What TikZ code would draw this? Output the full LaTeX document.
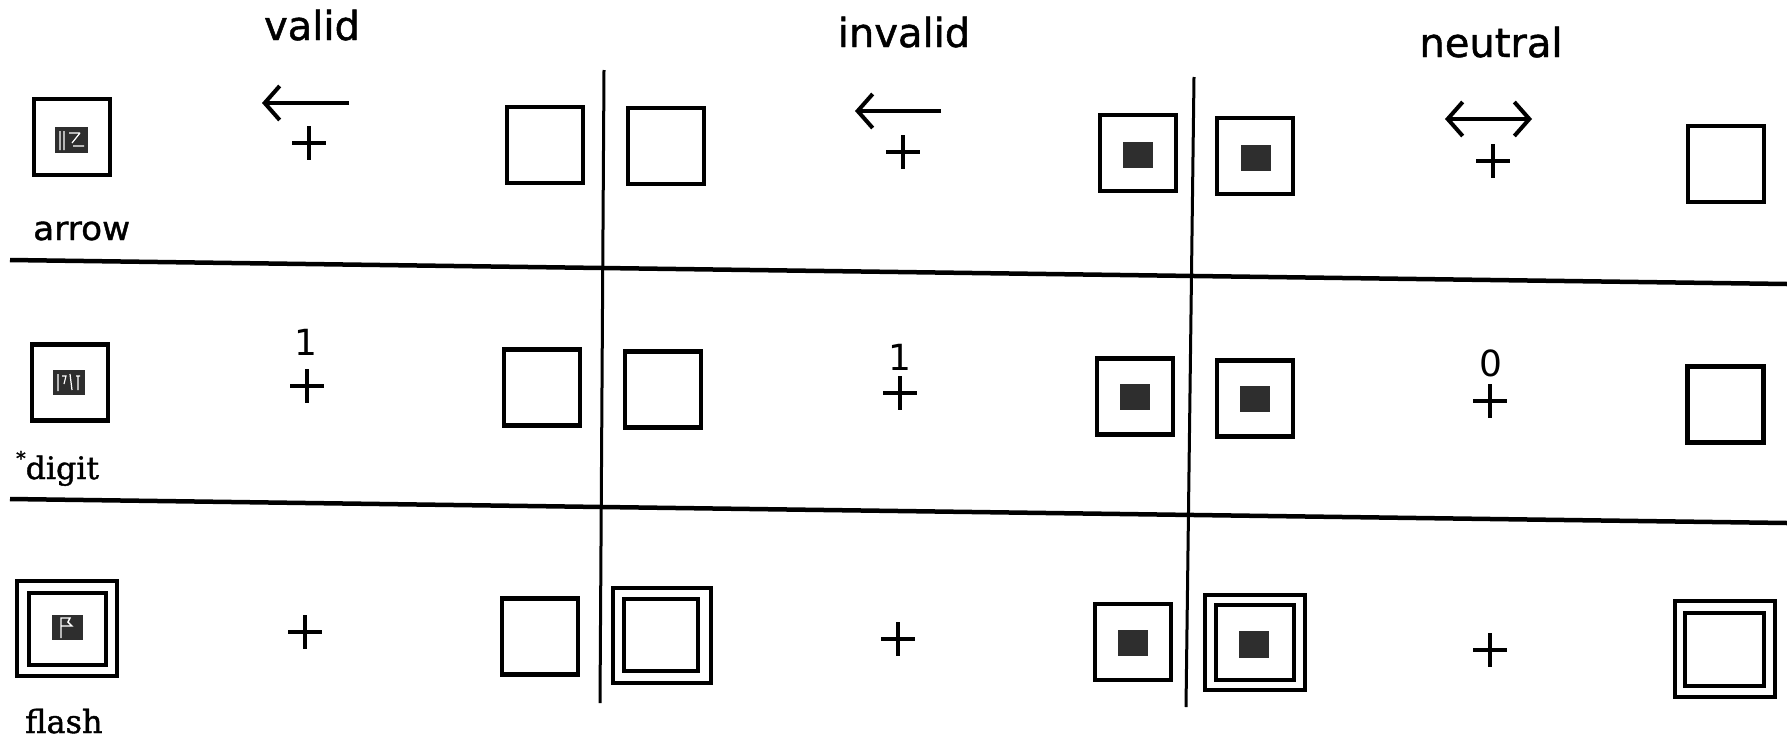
\documentclass[tikz,border=0pt]{standalone}
\usepackage{fontspec}
\setmainfont{DejaVu Sans}
\newfontfamily\headfont{DejaVu Sans}[FakeBold=1.2]
\newfontfamily\labelserif{DejaVu Serif}[FakeBold=1.2]
\usetikzlibrary{arrows.meta}

\tikzset{
  % plain square frame
  sbox/.style={draw=black, line width=4.5pt, fill=white, minimum width=76pt, minimum height=76pt, inner sep=0pt},
  % outer frame of a doubled square
  obox/.style={draw=black, line width=4.5pt, fill=white, minimum width=98pt, minimum height=95pt, inner sep=0pt},
  % filled core inside a frame
  core/.style={fill=black!82, minimum width=30pt, minimum height=26pt, inner sep=0pt},
  head/.style={font=\headfont\fontsize{40}{40}\selectfont, anchor=base, inner sep=0pt},
  digitlbl/.style={font=\fontsize{36}{36}\selectfont, anchor=base, inner sep=0pt},
  rowlbl/.style={anchor=base west, inner sep=0pt},
  rule/.style={line width=4.5pt},
  colrule/.style={line width=3pt},
  pointer/.style={line width=4pt},
  barb/.tip={Straight Barb[length=15pt, width=34pt, line width=4pt]},
  crossmark/.pic={\draw[line width=4pt] (-17,0) -- (17,0) (0,-17) -- (0,17);}
}

\begin{document}
\begin{tikzpicture}[x=1pt, y=-1pt]
\useasboundingbox (0,0) rectangle (1787,742);

% column headings
\node[head] (hvalid)   at (312,40) {valid};
\node[head] (hinvalid) at (904,47) {invalid};
\node[head] (hneutral) at (1491,57) {neutral};

% grid rules
\coordinate (h1a) at (10,260);  \coordinate (h1b) at (1787,284);
\coordinate (h2a) at (10,499);  \coordinate (h2b) at (1787,523);
\coordinate (v1a) at (604,70);  \coordinate (v1b) at (600,703);
\coordinate (v2a) at (1194,77); \coordinate (v2b) at (1186,707);
\draw[rule] (h1a) -- (h1b);
\draw[rule] (h2a) -- (h2b);
\draw[colrule] (v1a) -- (v1b);
\draw[colrule] (v2a) -- (v2b);

% ---------- row 1: arrow ----------
\node[sbox] (a1) at (72,137) {};
\node[core, minimum width=33pt] (a1i) at (71.5,140) {};
\draw[white, line width=1.2pt] (60,131) -- (60,150) (64,131) -- (64,150) (69,133) -- (80,133) (80,133) -- (72,143) (73,146) -- (84,146);
\node[rowlbl, font=\headfont\fontsize{33}{33}\selectfont] (larrow) at (33,240) {\scalebox{1.04}[1]{arrow}};

\coordinate (ar1s) at (349,103); \coordinate (ar1e) at (262,103);
\draw[pointer, -{barb}] (ar1s) -- (ar1e);
\pic (p11) at (309,143) {crossmark};
\node[sbox] (b1) at (545,145) {};

\node[sbox] (c1) at (666,146) {};
\coordinate (ar2s) at (941,111); \coordinate (ar2e) at (855,111);
\draw[pointer, -{barb}] (ar2s) -- (ar2e);
\pic (p12) at (903,152) {crossmark};
\node[sbox] (d1) at (1138,153) {};
\node[core] (d1i) at (1138,155) {};

\node[sbox] (e1) at (1255,156) {};
\node[core] (e1i) at (1255.5,157.5) {};
\coordinate (ar3s) at (1445,119); \coordinate (ar3e) at (1532,119);
\draw[pointer, {barb}-{barb}] (ar3s) -- (ar3e);
\pic (p13) at (1493,161) {crossmark};
\node[sbox] (f1) at (1726,164) {};

% ---------- row 2: digit ----------
\node[sbox] (a2) at (70,382.5) {};
\node[core, minimum width=32pt, minimum height=25pt] (a2i) at (69,382.5) {};
\draw[white, line width=1.2pt] (58,374) -- (58,391) (62,376) -- (66,376) -- (64,384) (70,374) -- (72,390) (76,376) -- (80,376) (78,376) -- (78,390);
\node[rowlbl, font=\labelserif\fontsize{31}{31}\selectfont] (ldigit) at (16,479) {\raisebox{14pt}{\fontsize{19}{19}\selectfont *}\scalebox{1.02}[1]{digit}};

\node[digitlbl] (n21) at (306,355) {1};
\pic (p21) at (307,386) {crossmark};
\node[sbox] (b2) at (542,387.5) {};

\node[sbox] (c2) at (663,389.5) {};
\node[digitlbl] (n22) at (900,370) {1};
\pic (p22) at (900,393) {crossmark};
\node[sbox] (d2) at (1135,396.5) {};
\node[core] (d2i) at (1135,397) {};

\node[sbox] (e2) at (1255,398.5) {};
\node[core] (e2i) at (1255,399) {};
\node[digitlbl] (n23) at (1491,376) {0};
\pic (p23) at (1490,401) {crossmark};
\node[sbox] (f2) at (1725.5,404.5) {};

% ---------- row 3: flash ----------
\node[obox, minimum width=100pt, minimum height=95pt] (a3o) at (67,628.5) {};
\node[sbox, minimum width=77pt, minimum height=72pt] (a3) at (67.5,629) {};
\node[core, minimum width=31pt, minimum height=25pt] (a3i) at (67.5,627.5) {};
\draw[white, line width=1.4pt] (61,638) -- (61,618) -- (70,618) -- (68,622) -- (72,626) -- (61,626);
\node[rowlbl, font=\labelserif\fontsize{32}{32}\selectfont] (lflash) at (25,733) {flash};

\pic (p31) at (305,632) {crossmark};
\node[sbox] (b3) at (540,636.5) {};

\node[obox] (c3o) at (662,635.5) {};
\node[sbox, minimum width=74pt, minimum height=72pt] (c3) at (661,635) {};
\pic (p32) at (898,639) {crossmark};
\node[sbox] (d3) at (1133,642) {};
\node[core] (d3i) at (1133,643) {};

\node[obox, minimum width=100pt, minimum height=95pt] (e3o) at (1255,642.5) {};
\node[sbox, minimum width=78pt, minimum height=75pt] (e3) at (1255,642.5) {};
\node[core, minimum height=27pt] (e3i) at (1254,644.5) {};
\pic (p33) at (1490,650) {crossmark};
\node[obox, minimum width=100pt, minimum height=96pt] (f3o) at (1725,649) {};
\node[sbox, minimum width=79pt, minimum height=73pt] (f3) at (1724.5,649.5) {};
\end{tikzpicture}
\end{document}
